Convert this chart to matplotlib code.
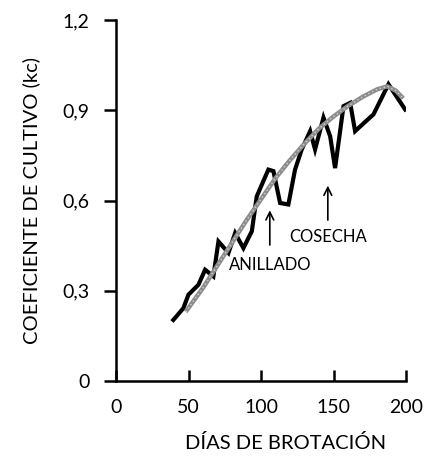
import matplotlib

matplotlib.use("Agg")
import matplotlib.pyplot as plt

# measured crop coefficient (black line)
dias = [39.5, 46.4, 49.9, 56.8, 61.4, 67.1, 70.6, 77.5, 82.1, 87.8, 93.6, 97.0,
        105.0, 108.5, 113.1, 118.8, 123.4, 128.0, 133.8, 137.2, 143.0, 147.6,
        151.0, 156.8, 161.4, 164.8, 177.5, 187.8, 199.3]
kc = [0.203, 0.242, 0.287, 0.320, 0.370, 0.348, 0.464, 0.426, 0.492, 0.442, 0.498, 0.614,
      0.703, 0.698, 0.592, 0.587, 0.703, 0.770, 0.831, 0.770, 0.876, 0.814,
      0.708, 0.914, 0.925, 0.831, 0.887, 0.987, 0.903]

# fitted curve (grey)
dias_ajuste = [48, 60, 70, 80, 90, 100, 110, 120, 130, 140, 150, 160, 170, 180, 187, 193, 198]
kc_ajuste = [0.23, 0.31, 0.385, 0.46, 0.535, 0.605, 0.675, 0.735, 0.79, 0.84, 0.88,
             0.915, 0.945, 0.97, 0.98, 0.965, 0.94]

x_ticks = [0, 50, 100, 150, 200]
y_ticks = [0, 0.3, 0.6, 0.9, 1.2]
y_tick_labels = ["0", "0,3", "0,6", "0,9", "1,2"]

# annotations: (text, x, text y, arrow tail y, arrow tip y)
anillado = ("ANILLADO", 106, 0.387, 0.443, 0.577)
cosecha = ("COSECHA", 146, 0.479, 0.526, 0.659)

plt.rcParams["font.family"] = ["Lato", "DejaVu Sans"]

fig = plt.figure(figsize=(4.33, 4.59), dpi=100)
ax = fig.add_axes([0.268, 0.170, 0.670, 0.786])

ax.plot(dias, kc, color="black", lw=3.0, solid_joinstyle="miter", zorder=2)
ax.plot(dias_ajuste, kc_ajuste, color="#8c8c8c", lw=3.2, solid_capstyle="butt", zorder=3)
ax.plot(dias_ajuste, kc_ajuste, color="#d0d0d0", lw=1.0, ls=(0, (1, 2)), zorder=4)

for text, x, ty, tail, tip in (anillado, cosecha):
    ax.annotate("", xy=(x, tip), xytext=(x, tail),
                arrowprops=dict(arrowstyle="->", color="black", lw=1.2,
                                mutation_scale=14))
    ax.text(x, ty, text, ha="center", va="center", fontsize=12)

ax.set_xlim(0, 200)
ax.set_ylim(0, 1.2)
ax.set_xticks(x_ticks)
ax.set_yticks(y_ticks)
ax.set_yticklabels(y_tick_labels)

for side in ("top", "right"):
    ax.spines[side].set_visible(False)
for side in ("left", "bottom"):
    ax.spines[side].set_linewidth(1.8)

ax.tick_params(axis="y", direction="out", length=9, width=1.8, labelsize=14, pad=10)
ax.tick_params(axis="x", direction="in", length=8, width=1.8, labelsize=14, pad=13)

ax.set_xlabel("DÍAS DE BROTACIÓN", fontsize=14.5)
ax.set_ylabel("COEFICIENTE DE CULTIVO (kc)", fontsize=14.5)
ax.xaxis.set_label_coords(0.583, -0.148)
ax.yaxis.set_label_coords(-0.262, 0.5)

fig.savefig("out.png", dpi=100)
